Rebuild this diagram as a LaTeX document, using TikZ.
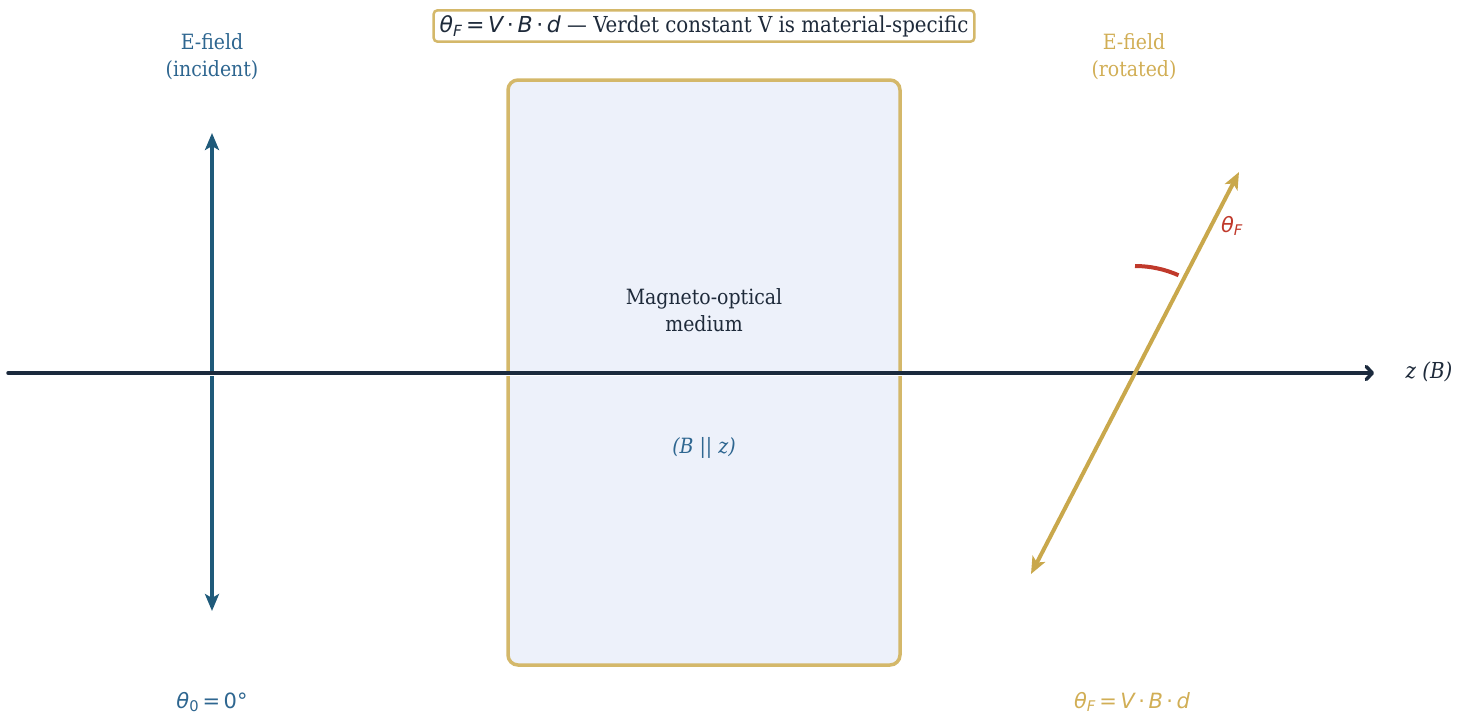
\documentclass[tikz,border=0pt]{standalone}
\usepackage{fontspec}
\setmainfont{DejaVu Serif Condensed}
\newfontfamily\mathfont{DejaVu Sans}
\usetikzlibrary{arrows.meta,positioning,calc}
\definecolor{axisnavy}{HTML}{1B2A3D}
\definecolor{darktext}{HTML}{1E2A3A}
\definecolor{fieldblue}{HTML}{1F5A7A}
\definecolor{labelblue}{HTML}{2E6690}
\definecolor{fieldgold}{HTML}{C9A84C}
\definecolor{boxgold}{HTML}{D4B86A}
\definecolor{labelgold}{HTML}{D1AE55}
\definecolor{anglered}{HTML}{C0392B}
\definecolor{mediumfill}{HTML}{EDF1FA}
\newcommand{\thF}{{\mathfont\itshape θ\textsubscript{F}}}
\newcommand{\eqsign}{{\mathfont\,=\,}}
\newcommand{\vbd}{{\mathfont\itshape V\,\upshape·\,\itshape B\,\upshape·\,\itshape d}}

\begin{document}
\begin{tikzpicture}[x=1pt,y=-1pt,
  lbl/.style={font=\fontsize{21}{27}\selectfont, align=center},
  earrow/.style={line width=4pt, {Stealth[length=17pt,width=14pt,inset=4pt]}-{Stealth[length=17pt,width=14pt,inset=4pt]}}]
\useasboundingbox (0,0) rectangle (1472,723);
% medium
\node[draw=boxgold, fill=mediumfill, line width=3.5pt, rounded corners=10pt,
  minimum width=392pt, minimum height=585pt] (medium) at (704,372.5) {};
\node[lbl, text=darktext] (mlabel) at (704,310) {Magneto-optical\\medium};
\node[lbl, text=labelblue, font=\fontsize{21}{27}\selectfont\itshape] (bpar) at (704,448) {(B || z)};
% incident field
\coordinate (inc) at (212,373);
\coordinate (inctop) at (212,133);
\coordinate (incbot) at (212,611);
\draw[earrow, fieldblue] (incbot) -- (inctop);
\node[lbl, text=labelblue] (inclabel) at (212,57) {E-field\\(incident)};
\node[lbl, text=labelblue] (theta0) at (212,702) {{\mathfont\itshape θ\textsubscript{\upshape 0}}\eqsign{\mathfont 0°}};
% propagation axis
\coordinate (zstart) at (8,373);
\coordinate (zend) at (1374,373);
\draw[white, line width=5pt] (zstart) -- (zend);
\draw[axisnavy, line width=3.5pt, line cap=round, -{Straight Barb[round,length=6pt,width=13pt]}] (zstart) -- (zend);
\node[lbl, text=darktext, font=\fontsize{22}{27}\selectfont\itshape] (zlabel) at (1429,372) {z (B)};
% rotated field
\coordinate (rot) at (1135,373);
\coordinate (rottop) at (1239,172);
\coordinate (rotbot) at (1031,574);
\draw[earrow, fieldgold] (rotbot) -- (rottop);
\node[lbl, text=labelgold] (rotlabel) at (1134,57) {E-field\\(rotated)};
\node[lbl, text=labelgold] (thetaf) at (1132,702) {\thF\eqsign\vbd};
% rotation angle
\draw[anglered, line width=4pt] (rot) ++(0,-107) arc[start angle=-90, end angle=-66, radius=107];
\node[lbl, text=anglered] (anglelabel) at (1232,226) {\thF};
% title
\node[draw=boxgold, fill=white, line width=2.5pt, rounded corners=4pt, inner xsep=6pt, inner ysep=5pt,
  text=darktext, font=\fontsize{22}{27}\selectfont] (title) at (704,26)
  {\thF\eqsign\vbd{} — Verdet constant V is material-specific};
\end{tikzpicture}
\end{document}
